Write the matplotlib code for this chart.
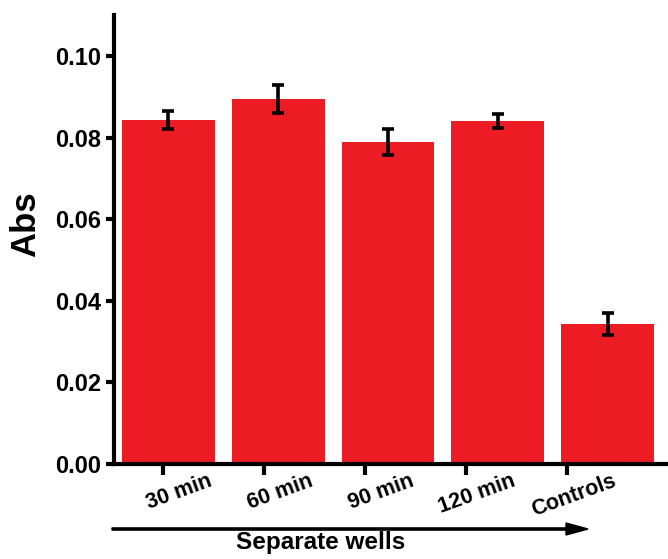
import matplotlib
matplotlib.use("Agg")
import matplotlib.pyplot as plt
import matplotlib.transforms as mtransforms
import numpy as np

categories = ["30 min", "60 min", "90 min", "120 min", "Controls"]
abs_mean = [0.0843, 0.0895, 0.0789, 0.0840, 0.0343]
abs_err = [0.0023, 0.0034, 0.0032, 0.0017, 0.0026]
yticks = [0.00, 0.02, 0.04, 0.06, 0.08, 0.10]

plt.rcParams.update({
    "font.family": ["Liberation Sans", "DejaVu Sans"],
    "font.weight": "bold",
})

fig = plt.figure(figsize=(6.68, 5.59), dpi=100)
ax = fig.add_axes([0.1707, 0.17, 0.8293, 0.803])

x = np.arange(len(categories))
ax.bar(x, abs_mean, width=0.845, color="#ED1C24", zorder=2)
ax.errorbar(x, abs_mean, yerr=abs_err, fmt="none", ecolor="black",
            elinewidth=2.6, capsize=4.5, capthick=2.6, zorder=3)

ax.set_xlim(-0.495, 4.55)
ax.set_ylim(0, 0.110)

for side in ["top", "right"]:
    ax.spines[side].set_visible(False)
for side in ["left", "bottom"]:
    ax.spines[side].set_linewidth(3)
ax.tick_params(axis="y", direction="out", length=6, width=3, pad=3)
ax.tick_params(axis="x", direction="out", length=8, width=3, pad=-3)

# tick marks in the original sit a bit left of the bar centres
tick_pos = np.arange(len(categories)) * 0.92 - 0.05
ax.set_xticks(tick_pos)
ax.set_xticklabels(categories)
offset = mtransforms.ScaledTranslation(52 / 100, 0, fig.dpi_scale_trans)
for lab in ax.get_xticklabels():
    lab.set_rotation(20)
    lab.set_fontsize(15.5)
    lab.set_fontweight("bold")
    lab.set_ha("right")
    lab.set_transform(lab.get_transform() + offset)

ax.set_yticks(yticks)
ax.set_yticklabels([f"{v:.2f}" for v in yticks], fontsize=17, fontweight="bold")
ax.set_ylabel("Abs", fontsize=25, fontweight="bold")
ax.yaxis.set_label_coords(-0.13, 0.535)

# arrow with axis title underneath
fig.patches.append(matplotlib.patches.FancyArrow(
    112 / 668, 1 - 529 / 559, (588 - 112 - 22) / 668, 0,
    width=2.2 / 559, head_width=12 / 559, head_length=22 / 668,
    length_includes_head=False, color="black", transform=fig.transFigure))
fig.text(321 / 668, 1 - 543 / 559, "Separate wells", ha="center", va="center",
         fontsize=17.5, fontweight="bold")

fig.savefig("out.png", dpi=100)
